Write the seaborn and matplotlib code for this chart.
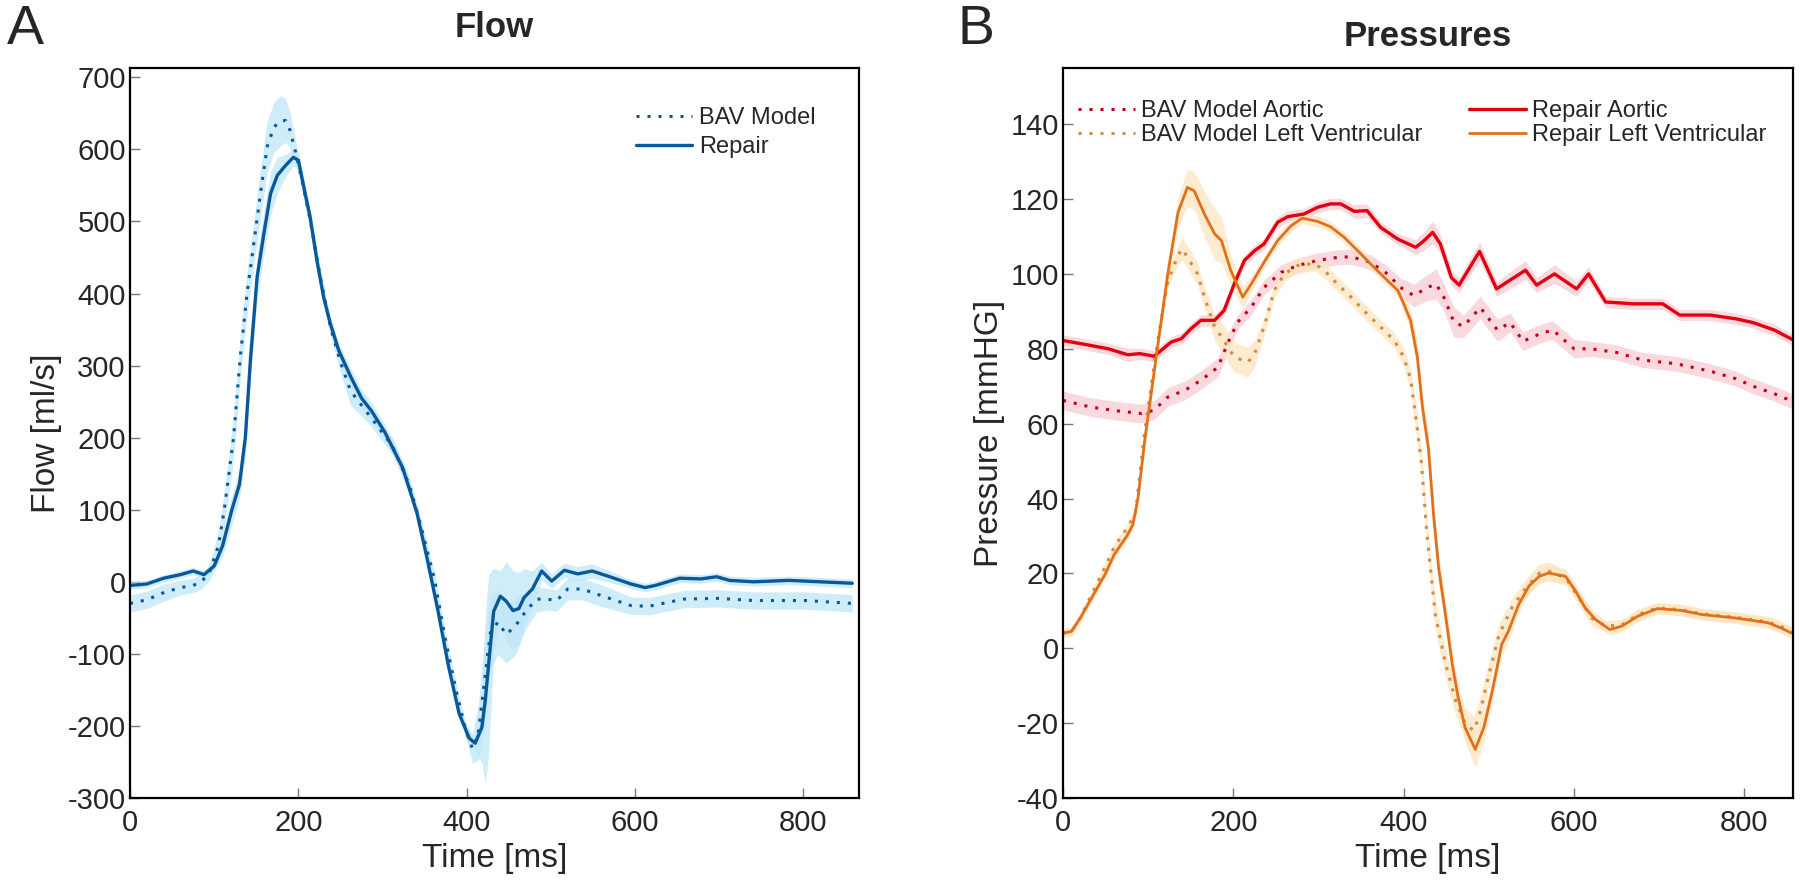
import numpy as np
import matplotlib
matplotlib.use("Agg")
import matplotlib.pyplot as plt
import seaborn as sns

# ---------------- Flow data (panel A) ----------------
flow_t_repair = [0, 20, 40, 60, 75, 88, 100, 110, 121, 130, 137, 143, 151, 159, 167, 175, 185, 194, 200,
                 208, 214, 222, 230, 238, 248, 262, 275, 287, 303, 324, 341, 353, 366, 378, 391, 403, 410,
                 418, 422, 426, 432, 440, 447, 455, 462, 468, 478, 489, 501, 516, 532, 549, 570, 595, 612,
                 624, 653, 678, 697, 712, 741, 783, 820, 858]
flow_repair = [-5, -3, 5, 10, 15, 10, 22, 50, 100, 135, 200, 307, 423, 483, 539, 564, 578, 589, 585,
               539, 506, 446, 395, 358, 321, 285, 255, 237, 207, 158, 95, 32, -41, -115, -183, -217, -224,
               -202, -165, -115, -41, -20, -27, -40, -37, -22, -10, 15, 1, 16, 11, 15, 7, -3, -8,
               -5, 5, 4, 7, 2, 0, 2, 0, -2]
flow_repair_sd = [5, 5, 5, 5, 5, 5, 6, 15, 20, 20, 25, 30, 30, 30, 30, 25, 15, 12, 12,
                  10, 10, 10, 10, 10, 10, 12, 12, 12, 10, 8, 8, 8, 8, 8, 8, 8, 10,
                  50, 115, 125, 60, 35, 55, 55, 50, 40, 25, 12, 10, 10, 10, 10, 8, 6, 6,
                  6, 6, 6, 6, 6, 6, 6, 6, 6]

flow_t_bav = [0, 20, 40, 60, 75, 85, 95, 105, 112, 123, 131, 139, 147, 155, 163, 171, 179, 185, 190,
              198, 206, 214, 226, 238, 250, 262, 275, 287, 312, 332, 345, 362, 374, 387, 399, 407, 414,
              422, 428, 437, 447, 458, 470, 483, 495, 507, 520, 537, 562, 595, 616, 658, 699, 741, 803, 858]
flow_bav = [-30, -25, -15, -8, -5, 0, 15, 50, 100, 200, 312, 400, 469, 539, 604, 631, 640, 640, 627,
            590, 548, 502, 423, 354, 305, 265, 245, 227, 188, 134, 80, 2, -76, -149, -207, -232, -207,
            -129, -71, -56, -73, -61, -41, -24, -24, -26, -10, -10, -20, -33, -34, -24, -23, -26, -26, -30]
flow_bav_sd = [12, 12, 12, 10, 10, 10, 12, 20, 25, 30, 30, 30, 30, 35, 35, 35, 35, 30, 25,
               15, 15, 15, 15, 12, 15, 20, 15, 12, 12, 12, 10, 10, 10, 10, 10, 20, 40,
               60, 50, 45, 40, 40, 25, 18, 15, 15, 15, 15, 15, 12, 12, 12, 12, 12, 12, 12]

# ---------------- Pressure data (panel B) ----------------
p_t_rep_ao = [0, 25, 53, 76, 90, 107, 127, 139, 150, 162, 178, 189, 201, 213, 225, 236, 252, 264, 283,
              299, 314, 326, 342, 357, 373, 393, 414, 424, 434, 443, 456, 465, 489, 509, 543, 556, 577,
              603, 617, 637, 670, 704, 724, 760, 790, 810, 835, 856]
p_rep_ao = [82.2, 81.2, 80, 78.4, 78.7, 78, 81.8, 82.7, 85.3, 87.6, 87.6, 90.2, 97.3, 103.6, 106.2, 108,
            113.8, 115.3, 116, 117.8, 118.7, 118.7, 116.7, 116.9, 112.4, 109.3, 107.1, 108.9, 111.1, 108,
            99, 97, 106, 96, 101, 97, 100, 96, 100, 92.5, 92, 92, 89, 89, 88, 87, 85, 82.5]
p_rep_ao_sd = [1.5, 1.5, 1.5, 1.8, 1.5, 1.5, 1.5, 1.5, 1.5, 1.5, 1.5, 1.5, 1.5, 1.5, 1.5, 1.5,
               1.5, 1.5, 1.5, 1.5, 1.5, 1.5, 1.8, 1.8, 1.5, 1.5, 2, 2.5, 3, 2.5,
               2, 2, 2.5, 2, 2.5, 2, 2.5, 2, 2, 1.5, 1.5, 1.5, 1.5, 1.5, 1.5, 1.5, 1.5, 1.5]

p_t_bav_ao = [0, 33, 64, 92, 107, 123, 143, 162, 182, 193, 205, 221, 236, 256, 275, 299, 322, 338, 361,
              381, 396, 412, 428, 438, 447, 459, 470, 490, 510, 525, 540, 560, 575, 600, 620, 650, 680,
              720, 760, 790, 810, 835, 856]
p_bav_ao = [66.2, 64.4, 63.4, 62.7, 63.6, 67.1, 68.9, 71.6, 75.1, 81.3, 87.1, 91.1, 96.4, 100.4, 102.2,
            103.6, 104.4, 104.6, 103.1, 100, 96.4, 94.2, 96.4, 97.3, 93.8, 87.1, 86, 91, 85, 87, 82, 84,
            85, 80, 80, 79, 77, 76, 74, 72, 70, 68, 66]
p_bav_ao_sd = [2.5, 2.5, 2.5, 2.5, 2.5, 2.5, 2.5, 2.5, 2.5, 2.5, 2, 2, 2, 2, 2, 2, 2, 2, 2,
               2, 2.5, 3, 3.5, 4, 3.5, 4, 3, 3, 3, 2.5, 2.5, 2.5, 2.5, 2.5, 2, 2, 2,
               2, 2, 2, 2, 2, 2]

p_t_rep_lv = [0, 10, 20, 35, 50, 60, 75, 82, 88, 96, 111, 123, 135, 146, 154, 166, 178, 186, 197, 211,
              221, 236, 252, 268, 281, 299, 314, 330, 346, 361, 377, 393, 400, 408, 416, 422, 429, 435,
              441, 449, 457, 464, 472, 484, 494, 504, 515, 523, 535, 547, 559, 570, 590, 602, 613, 625,
              642, 656, 675, 698, 726, 750, 789, 828, 843, 855]
p_rep_lv = [4, 4.5, 8, 14, 20, 25, 30, 33, 40, 55.6, 80.4, 100, 116.4, 123.1, 122.2, 116, 110.7, 108.9,
            100.9, 93.8, 97.3, 103.1, 108.9, 112.9, 114.9, 114, 112.6, 109.8, 106.2, 102.7, 99.1, 95.6,
            92, 87.6, 77.8, 64.4, 53.4, 35.7, 21.4, 9, -4.3, -13.2, -21.2, -27, -21.2, -11.4, 1, 4.6,
            11.7, 16.6, 19.2, 20.1, 19.2, 15.2, 10.8, 7.7, 5, 5.9, 8.6, 10.6, 10.1, 9, 8.1, 6.8, 5.4, 4.1]
p_rep_lv_sd = [1.2, 1.2, 1.2, 1.2, 1.2, 1.2, 1.2, 1.2, 1.5, 2, 2, 3, 4, 5, 5, 6, 7, 6, 4, 3,
               2, 1.5, 1.5, 1.5, 1.5, 1.5, 1.5, 1.5, 1.5, 1.5, 1.5, 1.5,
               2, 3, 4, 4, 4, 4, 4, 4, 4, 4, 4, 5, 4, 3, 3, 2.5,
               2, 2, 2, 2, 2, 2, 2, 1.5, 1.5, 1.5, 1.5, 1.5, 1.5, 1.5, 1.5, 1.5, 1.5, 1.5]

p_t_bav_lv = [0, 10, 20, 35, 50, 60, 75, 85, 96, 111, 123, 135, 140, 150, 158, 166, 178, 189, 201, 217,
              225, 236, 248, 260, 275, 295, 307, 322, 338, 357, 373, 389, 400, 408, 414, 421, 427, 437,
              449, 461, 472, 482, 488, 500, 512, 527, 543, 559, 570, 590, 606, 621, 637, 656, 675, 698,
              726, 750, 789, 828, 843, 855]
p_bav_lv = [4, 4.5, 8, 15, 22, 27, 32, 36, 58, 82, 98, 105, 106.7, 103, 100, 93.8, 85.8, 82.2, 77.8,
            76.4, 78.7, 85.8, 95.6, 100, 102.2, 102.8, 100.9, 97.3, 93.8, 89.3, 85.8, 82.2, 77.8, 72,
            62, 49, 31, 9, -4, -14, -20, -22, -18.6, -7, 3.7, 10.8, 16, 20, 20.6, 18.8, 13.4, 8, 5.9,
            6.2, 9, 10.8, 10.3, 9.2, 8.3, 7, 5.8, 4.5]
p_bav_lv_sd = [1.2, 1.2, 1.2, 1.2, 1.2, 1.2, 1.2, 1.5, 2, 2, 2, 2.5, 3, 3, 3, 3, 3.5, 4, 4, 4,
               3.5, 2.5, 2, 2, 2, 2, 2, 2, 2, 2, 2, 2, 2.5, 3, 4, 4, 4, 4,
               4, 4, 4, 4, 4, 3.5, 3, 2.5, 2.5, 2.5, 2.5, 2, 2, 2, 1.5,
               1.5, 1.5, 1.5, 1.5, 1.5, 1.5, 1.5, 1.5, 1.5]

# ---------------- style ----------------
sns.set_theme(style="white")
plt.rcParams['font.family'] = ['Liberation Sans', 'DejaVu Sans']
plt.rcParams['axes.unicode_minus'] = False

blue = "#08589a"
blue_band = "#bfe6f8"
red = "#e3000f"
red_dot = "#c0001c"
red_band = "#f7cbd4"
orange = "#e2701a"
orange_dot = "#cf8a45"
orange_band = "#fde5c0"
dot = (0, (1, 2.6))

fig = plt.figure(figsize=(18, 8.92), dpi=100)
axA = fig.add_axes([130 / 1800, 94 / 892, 729 / 1800, 730 / 892])
axB = fig.add_axes([1063 / 1800, 94 / 892, 730 / 1800, 730 / 892])


def band(ax, t, v, sd, color):
    t = np.array(t)
    v = np.array(v)
    sd = np.array(sd)
    ax.fill_between(t, v - sd, v + sd, color=color, alpha=0.75, lw=0)


# ---------------- Panel A: flow ----------------
band(axA, flow_t_bav, flow_bav, flow_bav_sd, blue_band)
band(axA, flow_t_repair, flow_repair, flow_repair_sd, blue_band)
sns.lineplot(x=flow_t_bav, y=flow_bav, ax=axA, color=blue, lw=2.2, linestyle=dot, label="BAV Model")
sns.lineplot(x=flow_t_repair, y=flow_repair, ax=axA, color=blue, lw=2.4, label="Repair")

axA.set_xlim(0, 866)
axA.set_ylim(-300, 713)
axA.set_xticks([0, 200, 400, 600, 800])
axA.set_yticks(range(-300, 701, 100))
axA.set_title("Flow", fontsize=25, fontweight="bold", pad=22)
axA.set_xlabel("Time [ms]", fontsize=24)
axA.set_ylabel("Flow [ml/s]", fontsize=24)
axA.legend(loc="upper right", bbox_to_anchor=(0.97, 0.976), frameon=False, fontsize=17,
           handlelength=2.4, handletextpad=0.3, labelspacing=0.3)

# ---------------- Panel B: pressures ----------------
band(axB, p_t_bav_ao, p_bav_ao, p_bav_ao_sd, red_band)
band(axB, p_t_rep_ao, p_rep_ao, p_rep_ao_sd, red_band)
band(axB, p_t_bav_lv, p_bav_lv, p_bav_lv_sd, orange_band)
band(axB, p_t_rep_lv, p_rep_lv, p_rep_lv_sd, orange_band)
sns.lineplot(x=p_t_bav_ao, y=p_bav_ao, ax=axB, color=red_dot, lw=2.2, linestyle=dot, label="BAV Model Aortic")
sns.lineplot(x=p_t_bav_lv, y=p_bav_lv, ax=axB, color=orange_dot, lw=2.2, linestyle=dot,
             label="BAV Model Left Ventricular")
sns.lineplot(x=p_t_rep_ao, y=p_rep_ao, ax=axB, color=red, lw=2.4, label="Repair Aortic")
sns.lineplot(x=p_t_rep_lv, y=p_rep_lv, ax=axB, color=orange, lw=2.0, label="Repair Left Ventricular")

axB.set_xlim(0, 857)
axB.set_ylim(-40, 155)
axB.set_xticks([0, 200, 400, 600, 800])
axB.set_yticks(range(-40, 141, 20))
axB.set_title("Pressures", fontsize=25, fontweight="bold", pad=16)
axB.set_xlabel("Time [ms]", fontsize=24)
axB.set_ylabel("Pressure [mmHG]", fontsize=24)
axB.legend(loc="upper left", bbox_to_anchor=(-0.002, 0.979), ncol=2, frameon=False, fontsize=17,
           handlelength=2.4, handletextpad=0.25, labelspacing=0.1, columnspacing=2.0, borderpad=0.2)

for ax in (axA, axB):
    for s in ax.spines.values():
        s.set_visible(True)
        s.set_color("black")
        s.set_linewidth(1.6)
    ax.tick_params(axis="both", direction="in", length=7, width=1, color="#777777",
                   labelsize=21, pad=3, top=False, right=False, bottom=True, left=True)
    ax.tick_params(axis="x", pad=8)
    ax.grid(False)

fig.text(0.004, 0.995, "A", fontsize=40, va="top", ha="left",
         family=['Liberation Sans Narrow', 'Liberation Sans', 'DejaVu Sans'])
fig.text(0.532, 0.995, "B", fontsize=40, va="top", ha="left",
         family=['Liberation Sans Narrow', 'Liberation Sans', 'DejaVu Sans'])

fig.savefig("out.png", dpi=100)
